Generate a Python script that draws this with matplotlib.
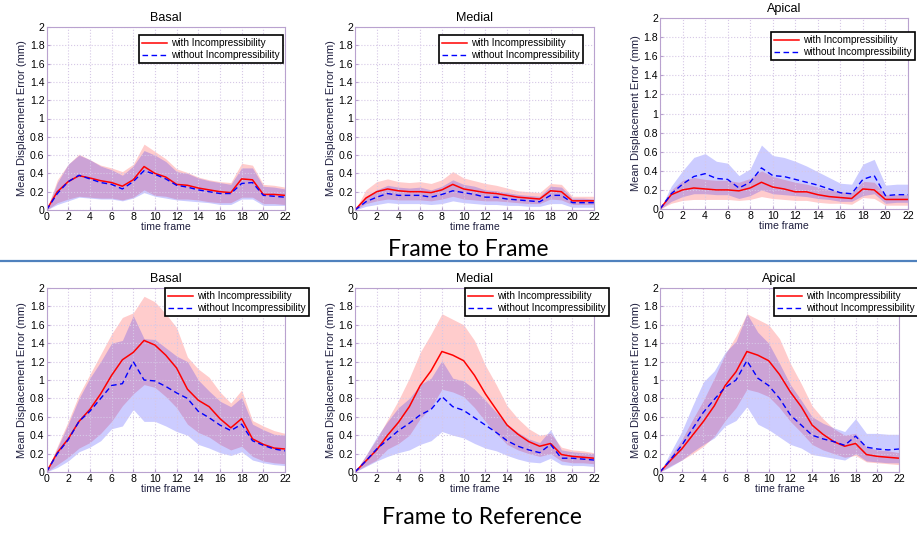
import matplotlib
matplotlib.use("Agg")
import matplotlib.pyplot as plt
import numpy as np

plt.rcParams['font.family'] = ['Liberation Sans', 'DejaVu Sans']

t = np.arange(23)
titles = ["Basal", "Medial", "Apical"]
row_labels = ["Frame to Frame", "Frame to Reference"]

# ---- frame to frame ----
ff_red = [
    [0, 0.20, 0.31, 0.375, 0.35, 0.32, 0.30, 0.26, 0.33, 0.475, 0.40, 0.36, 0.28, 0.27, 0.24, 0.22, 0.20, 0.19, 0.34, 0.33, 0.17, 0.17, 0.16],
    [0, 0.13, 0.20, 0.23, 0.21, 0.20, 0.20, 0.19, 0.22, 0.28, 0.23, 0.21, 0.19, 0.18, 0.16, 0.14, 0.13, 0.12, 0.21, 0.20, 0.10, 0.10, 0.10],
    [0, 0.15, 0.20, 0.22, 0.21, 0.20, 0.20, 0.19, 0.22, 0.28, 0.23, 0.21, 0.18, 0.18, 0.15, 0.13, 0.12, 0.11, 0.21, 0.20, 0.10, 0.10, 0.10],
]
ff_red_hi = [
    [0, 0.33, 0.50, 0.61, 0.55, 0.49, 0.46, 0.42, 0.50, 0.72, 0.64, 0.56, 0.45, 0.41, 0.36, 0.33, 0.31, 0.30, 0.51, 0.49, 0.28, 0.27, 0.25],
    [0, 0.22, 0.31, 0.34, 0.31, 0.30, 0.31, 0.29, 0.33, 0.42, 0.35, 0.32, 0.29, 0.27, 0.24, 0.21, 0.20, 0.19, 0.29, 0.28, 0.15, 0.15, 0.15],
    [0, 0.20, 0.30, 0.33, 0.31, 0.30, 0.30, 0.28, 0.32, 0.40, 0.34, 0.31, 0.28, 0.26, 0.23, 0.20, 0.18, 0.17, 0.29, 0.28, 0.15, 0.15, 0.15],
]
ff_red_lo = [
    [0, 0.08, 0.12, 0.15, 0.14, 0.13, 0.13, 0.11, 0.14, 0.22, 0.16, 0.15, 0.12, 0.12, 0.11, 0.09, 0.08, 0.08, 0.14, 0.14, 0.07, 0.07, 0.06],
    [0, 0.07, 0.10, 0.12, 0.11, 0.11, 0.11, 0.10, 0.12, 0.15, 0.12, 0.11, 0.10, 0.10, 0.09, 0.08, 0.07, 0.07, 0.12, 0.11, 0.06, 0.06, 0.06],
    [0, 0.06, 0.09, 0.10, 0.10, 0.10, 0.10, 0.09, 0.10, 0.13, 0.11, 0.10, 0.09, 0.09, 0.07, 0.06, 0.06, 0.05, 0.12, 0.11, 0.04, 0.04, 0.04],
]
ff_blue = [
    [0, 0.18, 0.31, 0.38, 0.34, 0.30, 0.28, 0.23, 0.31, 0.43, 0.39, 0.34, 0.27, 0.25, 0.22, 0.20, 0.18, 0.18, 0.29, 0.30, 0.16, 0.15, 0.14],
    [0, 0.09, 0.14, 0.18, 0.16, 0.16, 0.16, 0.14, 0.17, 0.21, 0.19, 0.17, 0.14, 0.14, 0.12, 0.11, 0.10, 0.09, 0.16, 0.16, 0.08, 0.08, 0.08],
    [0, 0.16, 0.26, 0.34, 0.37, 0.32, 0.31, 0.22, 0.28, 0.43, 0.35, 0.34, 0.31, 0.28, 0.25, 0.21, 0.17, 0.16, 0.31, 0.35, 0.14, 0.15, 0.15],
]
ff_blue_hi = [
    [0, 0.30, 0.50, 0.60, 0.55, 0.48, 0.44, 0.38, 0.48, 0.65, 0.60, 0.53, 0.42, 0.40, 0.35, 0.32, 0.30, 0.28, 0.46, 0.46, 0.26, 0.25, 0.23],
    [0, 0.15, 0.22, 0.27, 0.25, 0.24, 0.25, 0.22, 0.26, 0.33, 0.28, 0.26, 0.22, 0.21, 0.19, 0.17, 0.16, 0.15, 0.26, 0.25, 0.13, 0.13, 0.12],
    [0, 0.24, 0.40, 0.54, 0.58, 0.50, 0.48, 0.35, 0.42, 0.67, 0.56, 0.54, 0.50, 0.45, 0.39, 0.33, 0.27, 0.26, 0.47, 0.52, 0.25, 0.26, 0.26],
]
ff_blue_lo = [
    [0, 0.06, 0.10, 0.14, 0.13, 0.12, 0.12, 0.10, 0.13, 0.19, 0.15, 0.13, 0.11, 0.10, 0.09, 0.08, 0.06, 0.06, 0.12, 0.12, 0.05, 0.05, 0.05],
    [0, 0.04, 0.06, 0.08, 0.07, 0.07, 0.07, 0.06, 0.07, 0.10, 0.08, 0.07, 0.06, 0.06, 0.05, 0.05, 0.04, 0.04, 0.07, 0.07, 0.03, 0.03, 0.03],
    [0, 0.08, 0.13, 0.16, 0.16, 0.15, 0.15, 0.11, 0.14, 0.20, 0.16, 0.15, 0.14, 0.13, 0.11, 0.10, 0.08, 0.08, 0.14, 0.16, 0.06, 0.07, 0.07],
]

# ---- frame to reference ----
fr_red = [
    [0, 0.21, 0.36, 0.55, 0.68, 0.85, 1.05, 1.22, 1.30, 1.43, 1.38, 1.27, 1.13, 0.90, 0.78, 0.71, 0.58, 0.48, 0.58, 0.36, 0.30, 0.26, 0.25],
    [0, 0.12, 0.24, 0.40, 0.54, 0.71, 0.94, 1.10, 1.31, 1.27, 1.21, 1.05, 0.85, 0.68, 0.51, 0.41, 0.33, 0.28, 0.31, 0.19, 0.17, 0.16, 0.15],
    [0, 0.13, 0.25, 0.40, 0.55, 0.72, 0.94, 1.09, 1.31, 1.27, 1.21, 1.06, 0.87, 0.71, 0.51, 0.41, 0.33, 0.28, 0.31, 0.19, 0.17, 0.16, 0.15],
]
fr_red_hi = [
    [0, 0.28, 0.55, 0.84, 1.06, 1.28, 1.50, 1.68, 1.73, 1.91, 1.85, 1.72, 1.57, 1.25, 1.12, 1.03, 0.87, 0.75, 0.89, 0.56, 0.50, 0.45, 0.42],
    [0, 0.18, 0.36, 0.57, 0.78, 1.02, 1.30, 1.50, 1.72, 1.66, 1.60, 1.43, 1.16, 0.95, 0.72, 0.58, 0.47, 0.40, 0.42, 0.27, 0.24, 0.23, 0.21],
    [0, 0.18, 0.35, 0.57, 0.78, 1.02, 1.28, 1.48, 1.72, 1.66, 1.60, 1.45, 1.18, 0.96, 0.72, 0.58, 0.47, 0.40, 0.42, 0.27, 0.24, 0.23, 0.21],
]
fr_red_lo = [
    [0, 0.08, 0.16, 0.26, 0.32, 0.42, 0.55, 0.72, 0.85, 0.95, 0.92, 0.82, 0.70, 0.52, 0.43, 0.38, 0.30, 0.24, 0.28, 0.17, 0.12, 0.10, 0.09],
    [0, 0.07, 0.13, 0.25, 0.31, 0.40, 0.58, 0.70, 0.90, 0.87, 0.82, 0.70, 0.55, 0.42, 0.30, 0.24, 0.20, 0.17, 0.20, 0.12, 0.10, 0.10, 0.09],
    [0, 0.07, 0.13, 0.20, 0.28, 0.39, 0.56, 0.70, 0.90, 0.87, 0.82, 0.70, 0.55, 0.43, 0.30, 0.24, 0.20, 0.16, 0.18, 0.11, 0.10, 0.09, 0.08],
]
fr_blue = [
    [0, 0.20, 0.35, 0.55, 0.66, 0.80, 0.94, 0.96, 1.20, 1.00, 0.99, 0.93, 0.86, 0.80, 0.66, 0.59, 0.51, 0.45, 0.52, 0.34, 0.29, 0.25, 0.23],
    [0, 0.12, 0.25, 0.35, 0.45, 0.53, 0.62, 0.68, 0.82, 0.71, 0.67, 0.59, 0.51, 0.43, 0.34, 0.28, 0.24, 0.21, 0.30, 0.15, 0.15, 0.14, 0.13],
    [0, 0.14, 0.29, 0.47, 0.65, 0.79, 0.92, 1.00, 1.21, 1.02, 0.94, 0.80, 0.62, 0.51, 0.40, 0.36, 0.33, 0.29, 0.39, 0.27, 0.25, 0.24, 0.25],
]
fr_blue_hi = [
    [0, 0.26, 0.52, 0.80, 1.02, 1.20, 1.40, 1.43, 1.70, 1.45, 1.44, 1.35, 1.26, 1.20, 1.00, 0.88, 0.77, 0.71, 0.81, 0.52, 0.46, 0.41, 0.40],
    [0, 0.18, 0.38, 0.55, 0.70, 0.80, 0.95, 1.02, 1.21, 1.02, 0.99, 0.90, 0.78, 0.65, 0.52, 0.43, 0.36, 0.32, 0.46, 0.24, 0.22, 0.21, 0.20],
    [0, 0.22, 0.44, 0.72, 0.98, 1.10, 1.30, 1.42, 1.72, 1.52, 1.40, 1.18, 0.95, 0.78, 0.60, 0.53, 0.48, 0.44, 0.58, 0.42, 0.42, 0.41, 0.41],
]
fr_blue_lo = [
    [0, 0.05, 0.12, 0.22, 0.27, 0.34, 0.47, 0.50, 0.68, 0.55, 0.55, 0.50, 0.44, 0.40, 0.30, 0.26, 0.21, 0.18, 0.22, 0.13, 0.10, 0.08, 0.07],
    [0, 0.06, 0.12, 0.17, 0.21, 0.24, 0.30, 0.34, 0.44, 0.40, 0.37, 0.31, 0.26, 0.23, 0.18, 0.14, 0.11, 0.10, 0.15, 0.08, 0.07, 0.07, 0.06],
    [0, 0.06, 0.13, 0.22, 0.30, 0.37, 0.50, 0.56, 0.71, 0.52, 0.46, 0.38, 0.30, 0.26, 0.19, 0.17, 0.15, 0.13, 0.20, 0.12, 0.11, 0.10, 0.10],
]

fig = plt.figure(figsize=(9.17, 5.33), dpi=100)
W, H = 917.0, 533.0

# axes boxes in pixels: (left, top, right, bottom)
boxes = [
    [(46.5, 27, 285, 210), (355, 27, 594, 210), (660, 18, 908, 209)],
    [(46.5, 288, 285, 472), (355, 288, 594, 472), (660, 288, 899, 472)],
]
# legend upper-right corners in pixels
leg_pos = [
    [(283, 35), (583, 35), (915, 32)],
    [(309, 288), (609, 288), (918, 288)],
]

spine_col = "#b9a2cf"
grid_col = "#d6c8e6"

data = [
    (ff_red, ff_red_hi, ff_red_lo, ff_blue, ff_blue_hi, ff_blue_lo),
    (fr_red, fr_red_hi, fr_red_lo, fr_blue, fr_blue_hi, fr_blue_lo),
]

for r in range(2):
    red, red_hi, red_lo, blue, blue_hi, blue_lo = data[r]
    for c in range(3):
        l, tp, rt, bt = boxes[r][c]
        ax = fig.add_axes([l / W, 1 - bt / H, (rt - l) / W, (bt - tp) / H])
        ax.fill_between(t, red_lo[c], red_hi[c], color="red", alpha=0.2, lw=0)
        ax.fill_between(t, blue_lo[c], blue_hi[c], color="blue", alpha=0.2, lw=0)
        ax.plot(t, red[c], color="red", lw=1.1, label="with Incompressibility")
        ax.plot(t, blue[c], color="blue", lw=1.0, ls=(0, (4, 2.5)),
                label="without Incompressibility")
        ax.set_xlim(0, 22)
        ax.set_ylim(0, 2)
        ax.set_xticks(np.arange(0, 23, 2))
        ax.set_yticks(np.arange(0, 2.01, 0.2))
        ax.set_yticklabels(["0", "0.2", "0.4", "0.6", "0.8", "1", "1.2", "1.4", "1.6", "1.8", "2"])
        ax.tick_params(labelsize=7.6, direction="in", length=2, color=spine_col, pad=1.5)
        ax.grid(True, color=grid_col, ls=":", lw=0.8)
        for s in ax.spines.values():
            s.set_color(spine_col)
            s.set_linewidth(0.8)
        ax.set_title(titles[c], fontsize=9, pad=4)
        ax.set_xlabel("time frame", fontsize=7.6, labelpad=0, color="#202040")
        ax.set_ylabel("Mean Displacement Error (mm)", fontsize=8, labelpad=2, color="#202040")
        lx, ly = leg_pos[r][c]
        leg = ax.legend(loc="upper right", bbox_to_anchor=(lx / W, 1 - ly / H),
                        bbox_transform=fig.transFigure, fontsize=7.2, frameon=True,
                        fancybox=False, edgecolor="black", framealpha=1,
                        handlelength=2.5, handletextpad=0.4, borderpad=0.3,
                        labelspacing=0.2, borderaxespad=0)
        leg.get_frame().set_linewidth(1.2)

fig.text(468 / W, 1 - 249 / H, row_labels[0], ha="center", va="center",
         fontsize=16.5, family=["Lato", "DejaVu Sans"])
fig.text(482 / W, 1 - 518 / H, row_labels[1], ha="center", va="center",
         fontsize=16.5, family=["Lato", "DejaVu Sans"])
fig.add_artist(plt.Line2D([0, 1], [1 - 261 / H, 1 - 261 / H], transform=fig.transFigure,
                          color="#4f81bd", lw=1.6))

fig.savefig("out.png", dpi=100)
